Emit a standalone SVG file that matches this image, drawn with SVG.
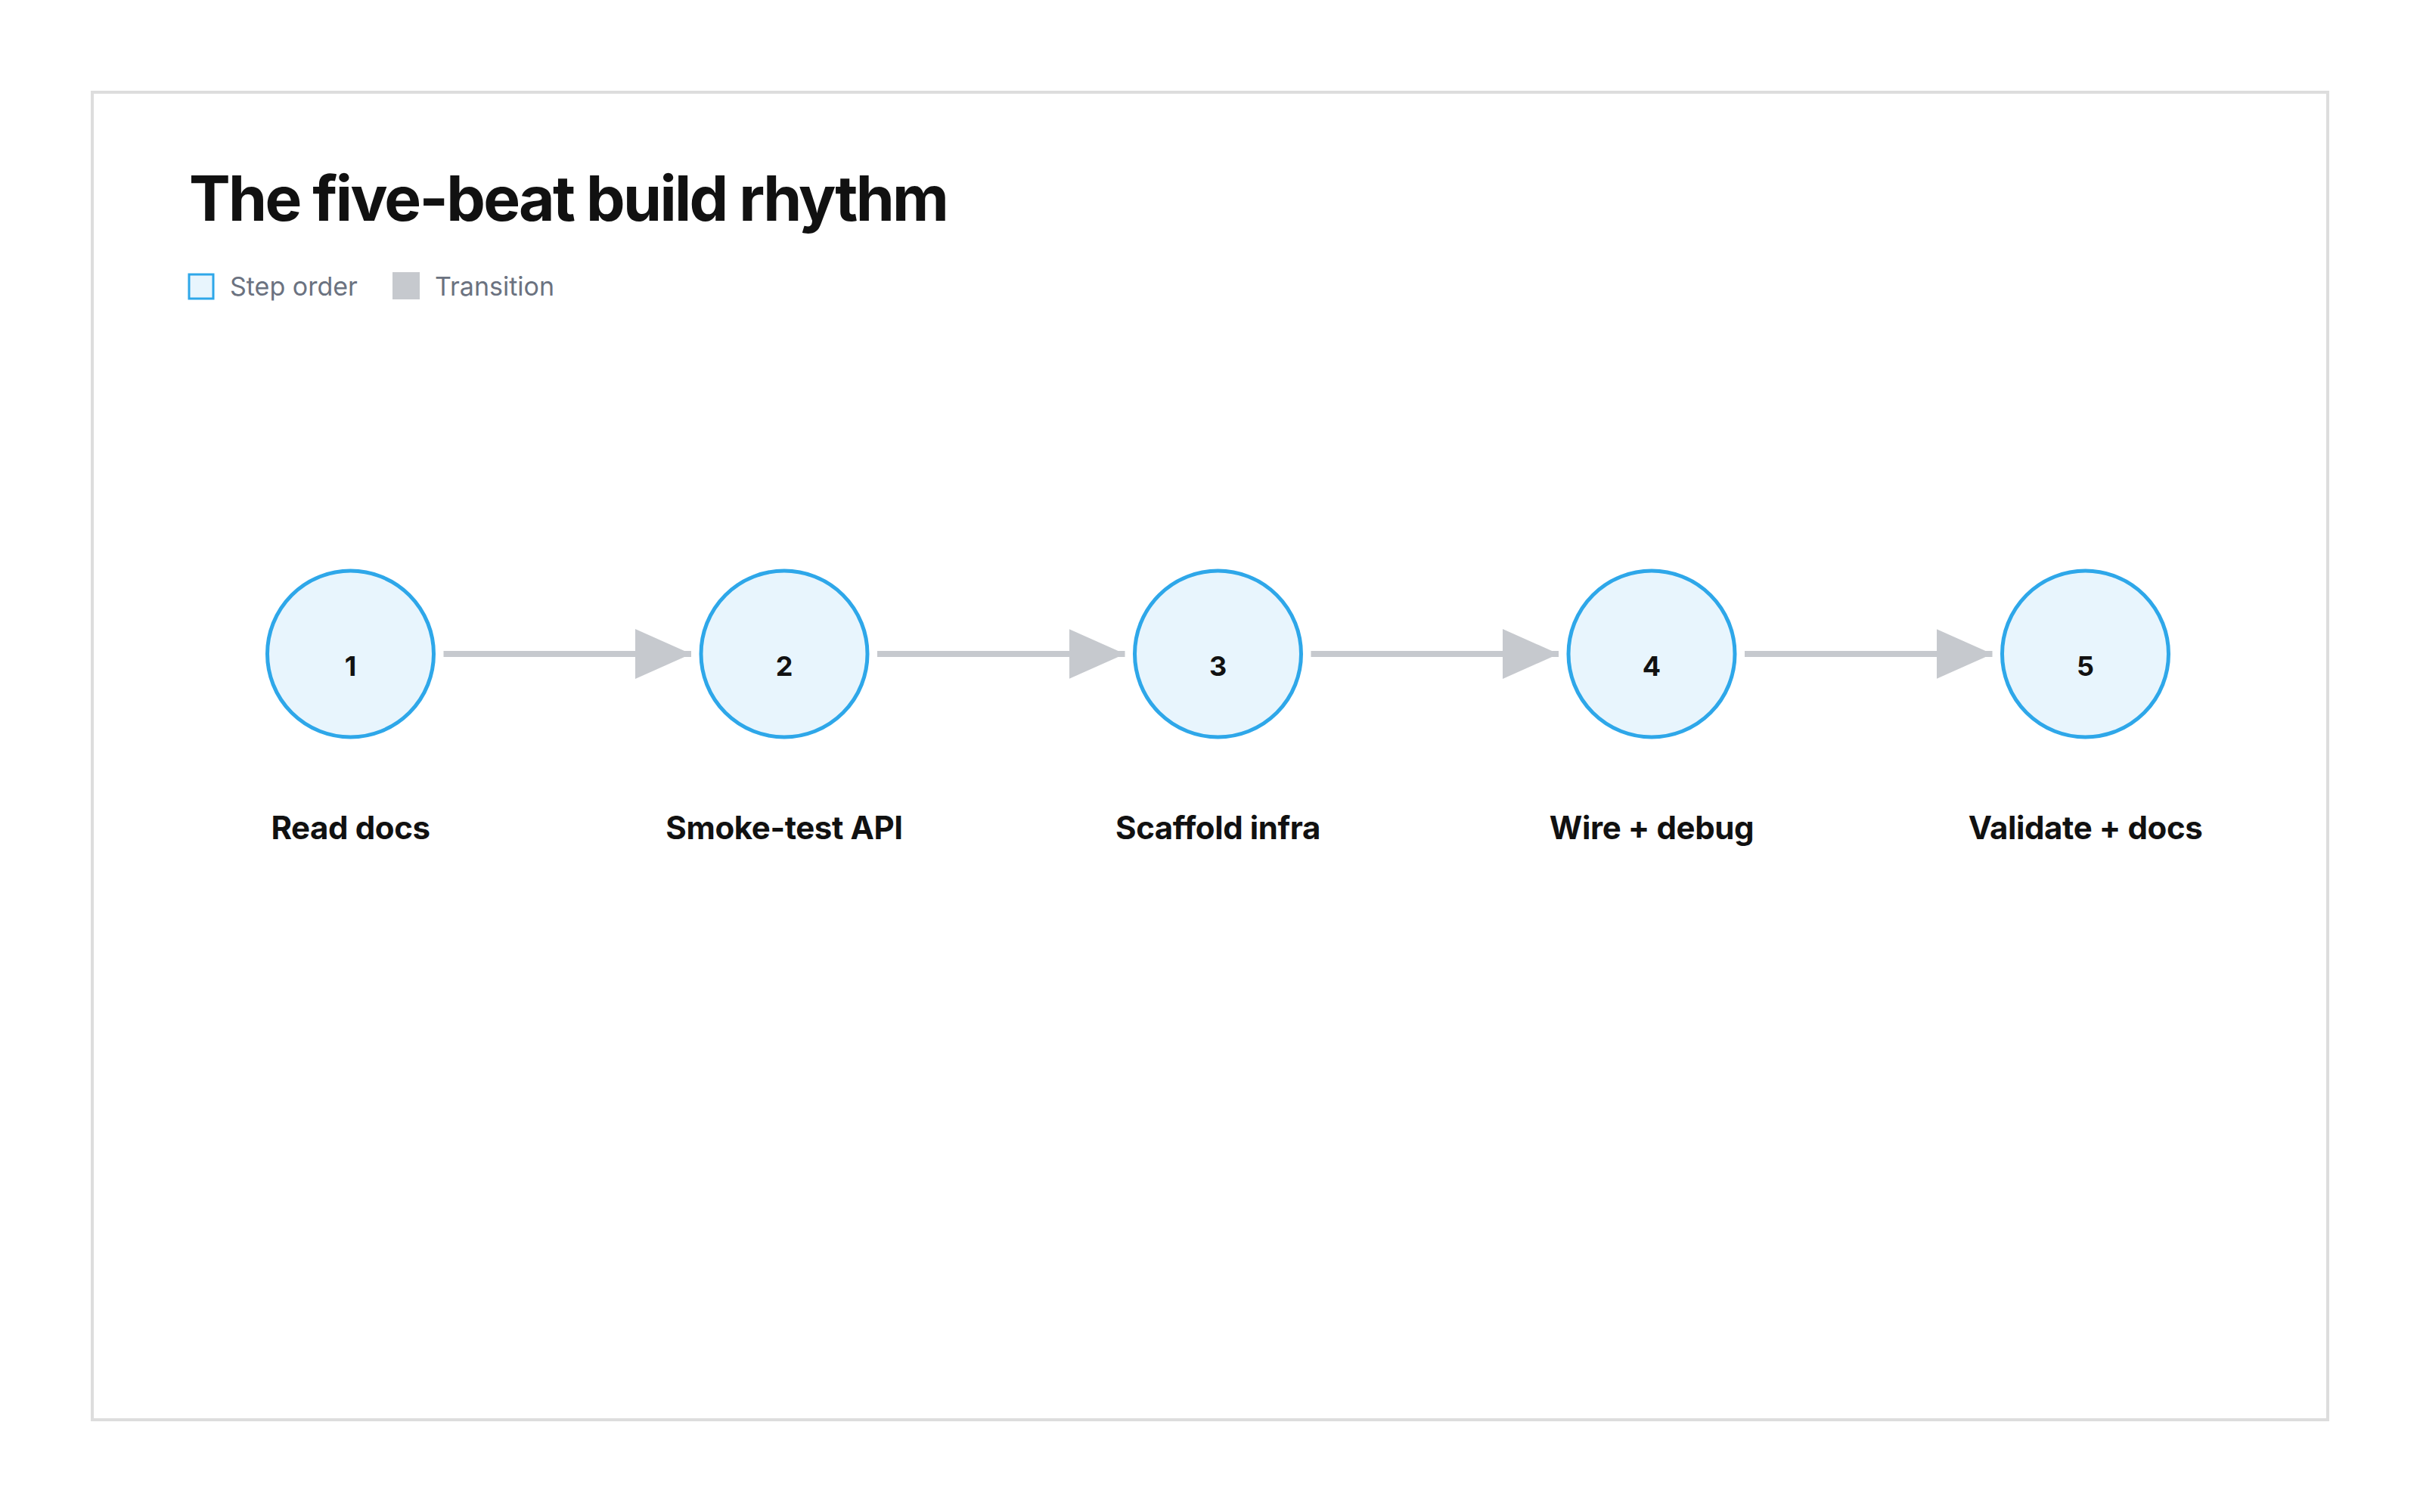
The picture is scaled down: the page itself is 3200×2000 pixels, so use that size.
<svg xmlns="http://www.w3.org/2000/svg" width="3200" height="2000" viewBox="0 0 3200 2000">
  <defs>
    <style>
      .frame { fill: #ffffff; stroke: #dddddd; stroke-width: 4; }
      .title { font-family: Inter, "Liberation Sans", sans-serif; font-weight: 700; font-size: 82px; fill: #111111; letter-spacing: -2.7px; }
      .legend-text { font-family: Inter, "Liberation Sans", sans-serif; font-weight: 400; font-size: 34px; fill: #6b7280; }
      .node-circle { fill: #e8f5fd; stroke: #2ea7e9; stroke-width: 5; }
      .node-num { font-family: Inter, "Liberation Sans", sans-serif; font-weight: 700; font-size: 36px; fill: #111111; text-anchor: middle; }
      .node-label { font-family: Inter, "Liberation Sans", sans-serif; font-weight: 700; font-size: 42px; fill: #111111; text-anchor: middle; letter-spacing: -0.4px; }
      .edge { stroke: #c6c9ce; stroke-width: 8; fill: none; }
    </style>
    <marker id="arrow" markerUnits="userSpaceOnUse" markerWidth="74" markerHeight="66" refX="74" refY="33" orient="auto" viewBox="0 0 74 66">
      <path d="M0,0 L74,33 L0,66 Z" fill="#c6c9ce"/>
    </marker>
  </defs>

  <rect width="3200" height="2000" fill="#ffffff"/>
  <rect class="frame" x="122" y="122" width="2956" height="1756"/>

  <g id="title">
    <text class="title" x="250" y="292">The five-beat build rhythm</text>
  </g>

  <g id="legend">
    <rect x="250" y="363" width="32" height="32" fill="#e8f5fd" stroke="#2ea7e9" stroke-width="3"/>
    <text class="legend-text" x="304" y="391">Step order</text>
    <rect x="519" y="360" width="36" height="36" fill="#c6c9ce"/>
    <text class="legend-text" x="575" y="391">Transition</text>
  </g>

  <g id="connectors">
    <line class="edge" x1="586.5" y1="865" x2="914" y2="865" marker-end="url(#arrow)"/>
    <line class="edge" x1="1160" y1="865" x2="1487.5" y2="865" marker-end="url(#arrow)"/>
    <line class="edge" x1="1733.5" y1="865" x2="2061" y2="865" marker-end="url(#arrow)"/>
    <line class="edge" x1="2307" y1="865" x2="2634.5" y2="865" marker-end="url(#arrow)"/>
  </g>

  <g id="node-1">
    <circle class="node-circle" cx="463.5" cy="865" r="110"/>
    <text class="node-num" x="463.5" y="894">1</text>
    <text class="node-label" x="463.5" y="1110">Read docs</text>
  </g>
  <g id="node-2">
    <circle class="node-circle" cx="1037" cy="865" r="110"/>
    <text class="node-num" x="1037" y="894">2</text>
    <text class="node-label" x="1037" y="1110">Smoke-test API</text>
  </g>
  <g id="node-3">
    <circle class="node-circle" cx="1610.5" cy="865" r="110"/>
    <text class="node-num" x="1610.5" y="894">3</text>
    <text class="node-label" x="1610.5" y="1110">Scaffold infra</text>
  </g>
  <g id="node-4">
    <circle class="node-circle" cx="2184" cy="865" r="110"/>
    <text class="node-num" x="2184" y="894">4</text>
    <text class="node-label" x="2184" y="1110">Wire + debug</text>
  </g>
  <g id="node-5">
    <circle class="node-circle" cx="2757.5" cy="865" r="110"/>
    <text class="node-num" x="2757.5" y="894">5</text>
    <text class="node-label" x="2757.5" y="1110">Validate + docs</text>
  </g>
</svg>
